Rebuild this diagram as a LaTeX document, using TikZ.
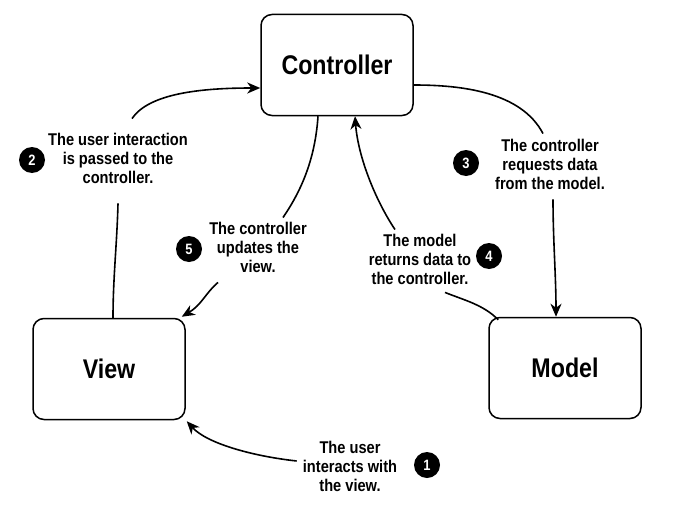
\documentclass[tikz,border=0pt]{standalone}
\usepackage{fontspec}
\setmainfont{Liberation Sans}[FakeStretch=0.86]
\usetikzlibrary{arrows.meta,positioning}

\tikzset{
	part/.style={draw, line width=1.5pt, rounded corners=11pt, minimum width=152pt, minimum height=101pt, font=\fontsize{27}{30}\selectfont\bfseries},
	note/.style={align=center, font=\fontsize{17}{19}\selectfont\bfseries, inner sep=2pt},
	badge/.style={circle, fill=black, text=white, minimum size=26pt, inner sep=0pt, font=\fontsize{15}{15}\selectfont\bfseries},
	flow/.style={line width=1.6pt},
	tip/.style={-{Stealth[length=13pt,width=11pt,inset=4pt]}}
}

\begin{document}
\begin{tikzpicture}[x=1pt,y=-1pt]
	\useasboundingbox (0,0) rectangle (690,511);
	%%%%%%%%%%%%%%%%%%%
	%      boxes      %
	%%%%%%%%%%%%%%%%%%%
		\node[part] (ctrl)  at (337,65)  {Controller};
		\node[part] (view)  at (109,369) {View};
		\node[part] (model) at (565,368) {Model};
	%%%%%%%%%%%%%%%%%%%
	%      notes      %
	%%%%%%%%%%%%%%%%%%%
		\node[note]  (note1)  at (350,466) {The user\\interacts with\\the view.};
		\node[badge] (step1) at (427,465) {1};
		\node[note]  (note2)  at (118,158) {The user interaction\\is passed to the\\controller.};
		\node[badge] (step2) at (32,160)  {2};
		\node[note]  (note3)  at (550,164) {The controller\\requests data\\from the model.};
		\node[badge] (step3) at (466,163) {3};
		\node[note]  (note4)  at (420,259) {The model\\returns data to\\the controller.};
		\node[badge] (step4) at (489,256) {4};
		\node[note]  (note5)  at (258,247) {The controller\\updates the\\view.};
		\node[badge] (step5) at (189,249) {5};
	%%%%%%%%%%%%%%%%%%%
	%    connectors   %
	%%%%%%%%%%%%%%%%%%%
		% 1: user -> view
		\draw[flow,tip] (note1.west) ++(-4,-5) .. controls +(-45,-5) and +(20,22) .. ([xshift=1pt,yshift=-1pt]view.south east);
		% 2: view -> controller
		\draw[flow] ([xshift=4pt]view.north) .. controls +(0,-40) and +(-1,40) .. ([yshift=-18pt]note2.south);
		\draw[flow,tip] ([xshift=14pt,yshift=12pt]note2.north) .. controls +(17,-25) and +(-60,0) .. ([yshift=-23pt]ctrl.west);
		% 3: controller -> model
		\draw[flow] ([yshift=-20pt]ctrl.east) .. controls +(47,0) and +(-22,-42) .. ([xshift=-7pt,yshift=3pt]note3.north);
		\draw[flow,tip] ([xshift=3pt,yshift=-8pt]note3.south) .. controls +(0,40) and +(0,-40) .. ([xshift=-9pt]model.north);
		% 4: model -> controller
		\draw[flow] ([xshift=10pt,yshift=-3pt]model.north west) .. controls +(-15,-15) and +(20,8) .. ([xshift=25pt,yshift=-6pt]note4.south);
		\draw[flow,tip] ([xshift=-25pt,yshift=2pt]note4.north) .. controls +(-20,-30) and +(3,40) .. ([xshift=18pt]ctrl.south);
		% 5: controller -> view
		\draw[flow] ([xshift=-19pt]ctrl.south) .. controls +(-3,45) and +(17,-25) .. ([xshift=25pt,yshift=2pt]note5.north);
		\draw[flow,tip] ([xshift=-40pt,yshift=-8pt]note5.south) .. controls +(-12,10) and +(20,-12) .. ([xshift=-4pt,yshift=1pt]view.north east);
\end{tikzpicture}
\end{document}
